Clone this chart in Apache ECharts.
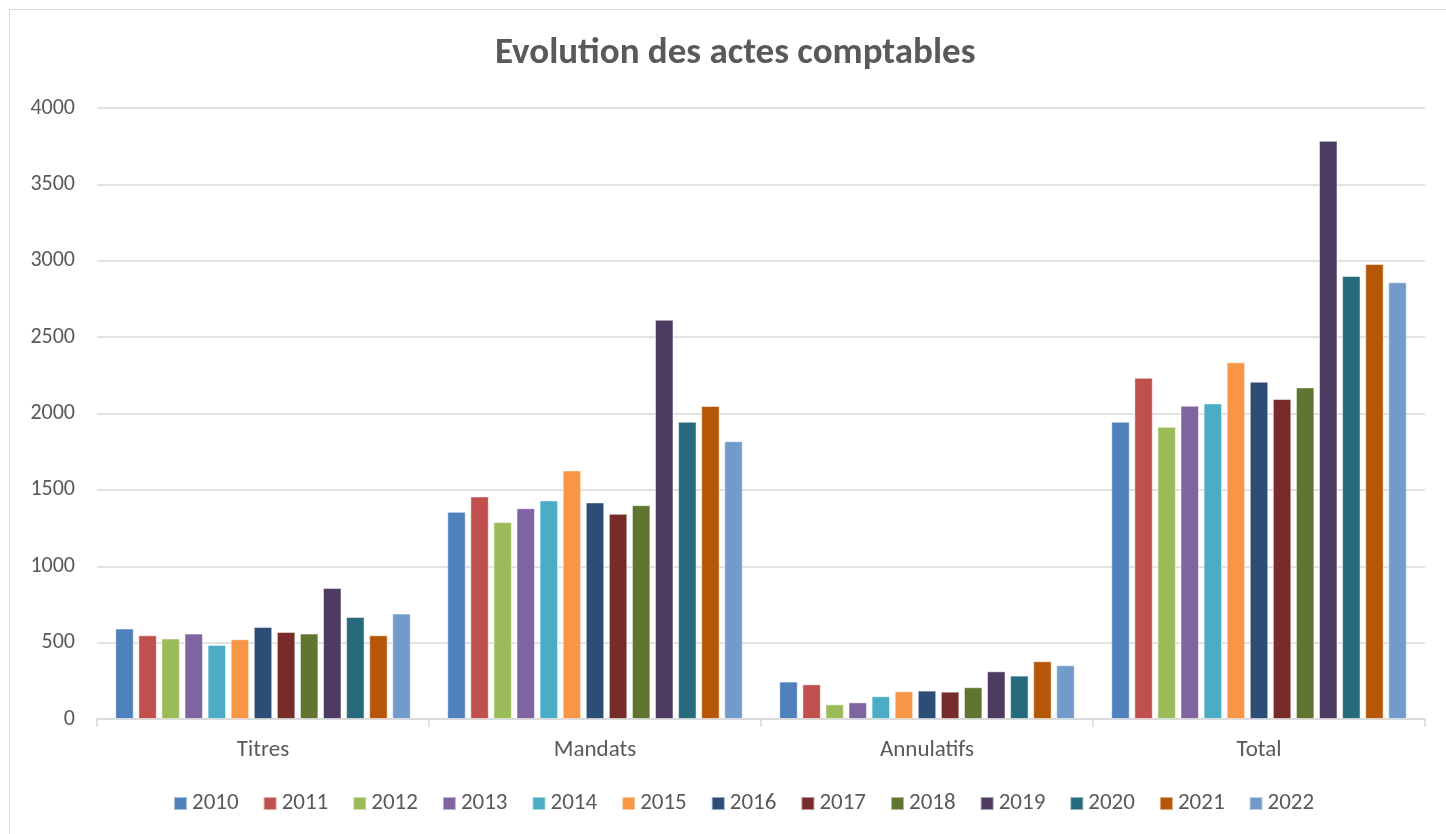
<!DOCTYPE html>
<html><head><meta charset="utf-8">
<script src="https://cdn.jsdelivr.net/npm/echarts@6/dist/echarts.min.js"></script>
<style>html,body{margin:0;padding:0;background:#fff}#c{width:1446px;height:834px}</style>
</head><body><div id="c"></div>
<script>
const categories = ['Titres', 'Mandats', 'Annulatifs', 'Total'];
const years = ['2010','2011','2012','2013','2014','2015','2016','2017','2018','2019','2020','2021','2022'];
const v2010 = [592, 1356, 245, 1946];
const v2011 = [548, 1457, 227, 2234];
const v2012 = [527, 1289, 96, 1913];
const v2013 = [559, 1380, 109, 2051];
const v2014 = [485, 1431, 149, 2066];
const v2015 = [522, 1627, 181, 2335];
const v2016 = [603, 1418, 186, 2208];
const v2017 = [570, 1343, 179, 2095];
const v2018 = [559, 1400, 208, 2171];
const v2019 = [858, 2614, 312, 3785];
const v2020 = [668, 1946, 284, 2900];
const v2021 = [548, 2049, 378, 2979];
const v2022 = [690, 1819, 352, 2859];
const yTicks = [0, 500, 1000, 1500, 2000, 2500, 3000, 3500, 4000];
const titleText = 'Evolution des actes comptables';

const values = [v2010,v2011,v2012,v2013,v2014,v2015,v2016,v2017,v2018,v2019,v2020,v2021,v2022];
const colors = ['#4F81BD','#C0504D','#9BBB59','#8064A2','#4BACC6','#F79646','#2C4D75','#772C2A','#5F7530','#4D3B62','#276A7C','#B65708','#729ACA'];
const font = 'Calibri, Carlito, "Open Sans", "Liberation Sans", sans-serif';

const chart = echarts.init(document.getElementById('c'));
chart.setOption({
  animation: false,
  color: colors,
  title: {
    text: titleText,
    left: 490, top: 30,
    textStyle: { fontFamily: font, fontSize: 37, fontWeight: 'bold', color: '#595959' }
  },
  graphic: [{
    type: 'rect', shape: { x: 9.5, y: 9.5, width: 1450, height: 840 },
    style: { fill: 'none', stroke: '#d9d9d9', lineWidth: 1 }, silent: true
  }],
  legend: {
    bottom: 14, left: 168,
    itemWidth: 13, itemHeight: 13, itemGap: 24,
    icon: 'rect',
    textStyle: { fontFamily: font, fontSize: 23, color: '#595959' },
    data: years
  },
  grid: { left: 97, right: 21, top: 108, bottom: 115, containLabel: false },
  xAxis: {
    type: 'category', data: categories,
    axisLine: { lineStyle: { color: '#d9d9d9', width: 1.5 } },
    axisTick: { show: true, alignWithLabel: false, length: 8, lineStyle: { color: '#d9d9d9', width: 1.5 } },
    axisLabel: { fontFamily: font, fontSize: 23, color: '#595959', margin: 20 }
  },
  yAxis: {
    type: 'value', min: yTicks[0], max: yTicks[yTicks.length-1], interval: 500,
    axisLine: { show: false }, axisTick: { show: false },
    axisLabel: { fontFamily: font, fontSize: 22, color: '#595959', margin: 22, formatter: v => String(v) },
    splitLine: { lineStyle: { color: '#d9d9d9', width: 1.5 } }
  },
  series: years.map((y, i) => ({
    name: y, type: 'bar', data: values[i],
    barGap: '25%', barCategoryGap: '11%',
    itemStyle: { color: colors[i], borderColor: 'rgba(255,255,255,0.5)', borderWidth: 1 }
  }))
});
</script></body></html>
